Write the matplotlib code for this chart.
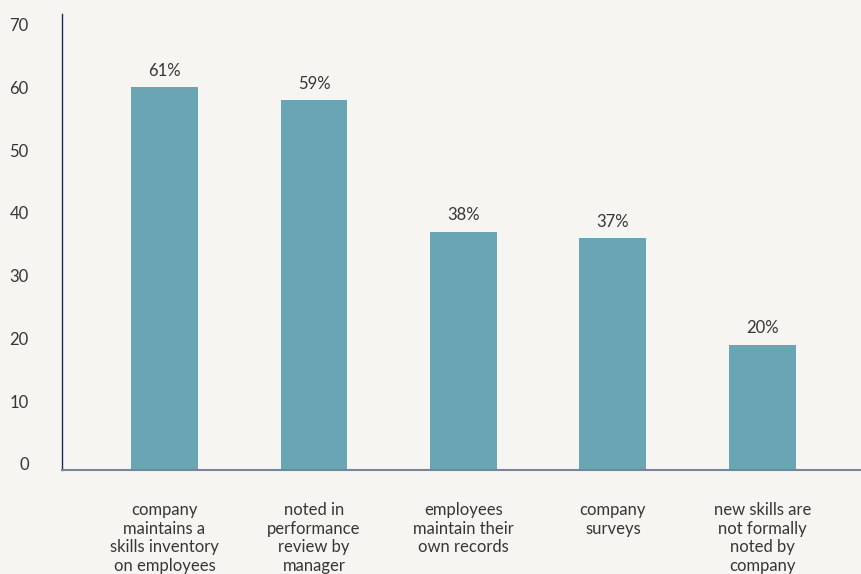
import matplotlib
matplotlib.use("Agg")
import matplotlib.pyplot as plt
import matplotlib.transforms as mtransforms

categories = [
    "company\nmaintains a\nskills inventory\non employees",
    "noted in\nperformance\nreview by\nmanager",
    "employees\nmaintain their\nown records",
    "company\nsurveys",
    "new skills are\nnot formally\nnoted by\ncompany",
]
values = [61, 59, 38, 37, 20]
yticks = [0, 10, 20, 30, 40, 50, 60, 70]

BG = "#f6f5f1"
BAR = "#6aa5b4"
TEXT = "#363636"

plt.rcParams["font.family"] = ["Lato", "DejaVu Sans"]

fig = plt.figure(figsize=(8.61, 5.74), dpi=100, facecolor=BG)
ax = fig.add_axes([62 / 861, 104 / 574, 1 - 62 / 861, 456 / 574], facecolor=BG)

x = list(range(len(values)))
ax.bar(x, values, width=0.448, color=BAR, zorder=2)

for xi, v in zip(x, values):
    ax.annotate(f"{v}%", (xi, v), xytext=(0, 6), textcoords="offset points",
                ha="center", va="bottom", fontsize=12, color=TEXT)

ax.set_xlim(-0.686, 4.66)
ax.set_ylim(0, 72.7)
ax.set_yticks(yticks)
ax.set_yticklabels([str(t) for t in yticks])
ax.set_xticks(x)
ax.set_xticklabels(categories, fontsize=12, color=TEXT, linespacing=1.2)

ax.tick_params(axis="both", length=0)
ax.tick_params(axis="y", pad=24, labelsize=12, labelcolor=TEXT)
ax.tick_params(axis="x", pad=23)

# lift the y labels slightly above their gridline positions
offset = mtransforms.ScaledTranslation(0, 4.5 / 72, fig.dpi_scale_trans)
for lbl in ax.get_yticklabels():
    lbl.set_transform(lbl.get_transform() + offset)

for side in ("top", "right"):
    ax.spines[side].set_visible(False)
ax.spines["left"].set_color("#1f2a5c")
ax.spines["left"].set_linewidth(1.0)
ax.spines["bottom"].set_color("#7c8298")
ax.spines["bottom"].set_linewidth(1.5)
ax.spines["bottom"].set_zorder(3)

fig.savefig("out.png", dpi=100, facecolor=BG)
